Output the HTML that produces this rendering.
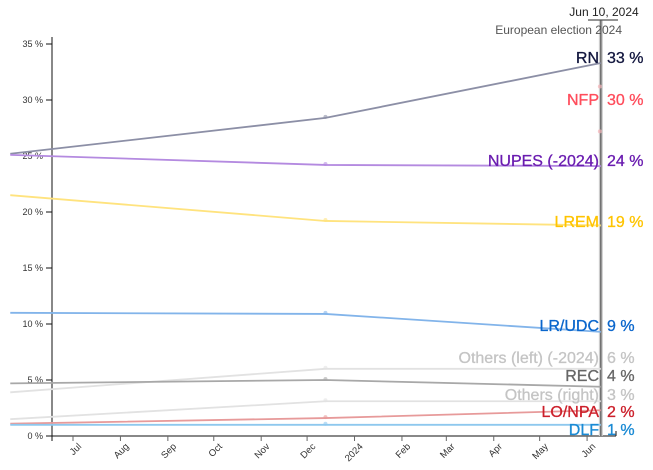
<!DOCTYPE html>
<html><head><meta charset="utf-8"><style>
body{margin:0;background:#fff;font-family:"Liberation Sans",sans-serif}
svg{display:block}
</style></head><body>
<svg id="c" width="653" height="470"></svg>
<script>
const categories=["2023-05-21","2023-12-13","2024-06-10"];
const seriesNames=["RN","NFP","NUPES (-2024)","LREM","LR/UDC","Others (left) (-2024)","REC","Others (right)","LO/NPA","DLF"];
const rnValues=[25.2,28.4,33.3];
const nupesValues=[25.1,24.2,24.1];
const lremValues=[21.5,19.2,18.8];
const lrValues=[11.0,10.9,9.3];
const othersLeftValues=[3.9,6.0,6.0];
const recValues=[4.7,5.0,4.4];
const othersRightValues=[1.5,3.1,3.1];
const lonpaValues=[1.1,1.6,2.3];
const dlfValues=[1.0,1.0,1.0];
const nfpPoints=[31.2,27.2];
const finalLabels=["33 %","30 %","24 %","19 %","9 %","6 %","4 %","3 %","2 %","1 %"];
const yTicks=[0,5,10,15,20,25,30,35];
const xTickLabels=["Jul","Aug","Sep","Oct","Nov","Dec","2024","Feb","Mar","Apr","May","Jun"];
const xTickDates=["2023-07-01","2023-08-01","2023-09-01","2023-10-01","2023-11-01","2023-12-01","2024-01-01","2024-02-01","2024-03-01","2024-04-01","2024-05-01","2024-06-01"];

const NS="http://www.w3.org/2000/svg";
const svg=document.getElementById("c");
const t0=Date.parse("2023-07-01");
const X=d=>73+(Date.parse(d)-t0)/86400000*1.53;
const Y=v=>436-v*11.2;
function el(tag,attrs,parent){const e=document.createElementNS(NS,tag);for(const k in attrs)e.setAttribute(k,attrs[k]);(parent||svg).appendChild(e);return e;}

const ax=el("g",{});


el("line",{x1:52,y1:37,x2:52,y2:441,stroke:"#111","stroke-width":1},ax);
yTicks.forEach(v=>{
  el("line",{x1:46,y1:Y(v),x2:52,y2:Y(v),stroke:"#111"},ax);
  const t=el("text",{x:43,y:Y(v)+3,"text-anchor":"end","font-size":9,fill:"#333"},ax);
  t.textContent=v+" %";
  
  
});
const xa=el("g",{});


el("line",{x1:52,y1:436,x2:616,y2:436,stroke:"#111"},xa);
el("line",{x1:616,y1:436,x2:616,y2:431,stroke:"#111"},xa);
xTickDates.forEach((d,i)=>{
  const x=X(d);
  el("line",{x1:x,y1:436,x2:x,y2:441,stroke:"#666"},xa);
  const t=el("text",{x:x+9,y:447,"text-anchor":"end","font-size":9.5,fill:"#333",transform:`rotate(-45 ${x+9} 447)`},xa);
  t.textContent=xTickLabels[i];
  
  
});

const series=[
 {vals:rnValues,line:"#8c8fa6",txt:"#13173f"},
 {vals:null,line:"#ff8a94",txt:"#ff4c5b"},
 {vals:nupesValues,line:"#b48ae0",txt:"#6a1cb0"},
 {vals:lremValues,line:"#ffe37e",txt:"#ffc400"},
 {vals:lrValues,line:"#82b4ea",txt:"#0a66cc"},
 {vals:othersLeftValues,line:"#e2e2e2",txt:"#c4c4c4"},
 {vals:recValues,line:"#a8a8a8",txt:"#666"},
 {vals:othersRightValues,line:"#e2e2e2",txt:"#c4c4c4"},
 {vals:lonpaValues,line:"#e79a9a",txt:"#cc1f2a"},
 {vals:dlfValues,line:"#8ec8ee",txt:"#1a8ad4"}
];
el("line",{x1:X("2024-06-10"),y1:20,x2:X("2024-06-10"),y2:436,stroke:"#ccc","stroke-width":4});
const vl=el("line",{x1:X("2024-06-10"),y1:20,x2:X("2024-06-10"),y2:436,stroke:"#555","stroke-width":1.2});


el("line",{x1:588,y1:20,x2:618,y2:20,stroke:"#555","stroke-width":1.2});
const dt=el("text",{x:604,y:16,"text-anchor":"middle","font-size":12,fill:"#222"});
dt.textContent="Jun 10, 2024";


const en=el("text",{x:622,y:34,"text-anchor":"end","font-size":12,fill:"#555"});
en.textContent="European election 2024";



series.forEach((s,i)=>{
  if(!s.vals)return;
  const p=el("path",{d:"M"+X(categories[0])+","+Y(s.vals[0])+" L"+X(categories[1])+","+Y(s.vals[1])+" L"+X(categories[2])+","+Y(s.vals[2]),fill:"none",stroke:s.line,"stroke-width":1.8});
  
  
  const c=el("circle",{cx:X(categories[1]),cy:Y(s.vals[1])-1,r:2,fill:s.line,opacity:0.6});
  
  
});
nfpPoints.forEach(v=>{
  const c=el("circle",{cx:X("2024-06-10")-1,cy:Y(v),r:2,fill:"#f3b0b5",opacity:0.7});
  
  
});

const labelY=[57,99,160,221,325,357,375,394,411,429];
series.forEach((s,i)=>{
  const g=el("g",{});
  
  
  const n=el("text",{x:599,y:labelY[i]+6,"text-anchor":"end","font-size":16,fill:s.txt,stroke:s.txt,"stroke-width":0.3},g);
  n.textContent=seriesNames[i];
  const v=el("text",{x:607,y:labelY[i]+6,"font-size":16,fill:s.txt,stroke:s.txt,"stroke-width":0.3},g);
  v.textContent=finalLabels[i];
});
</script>
</body></html>
